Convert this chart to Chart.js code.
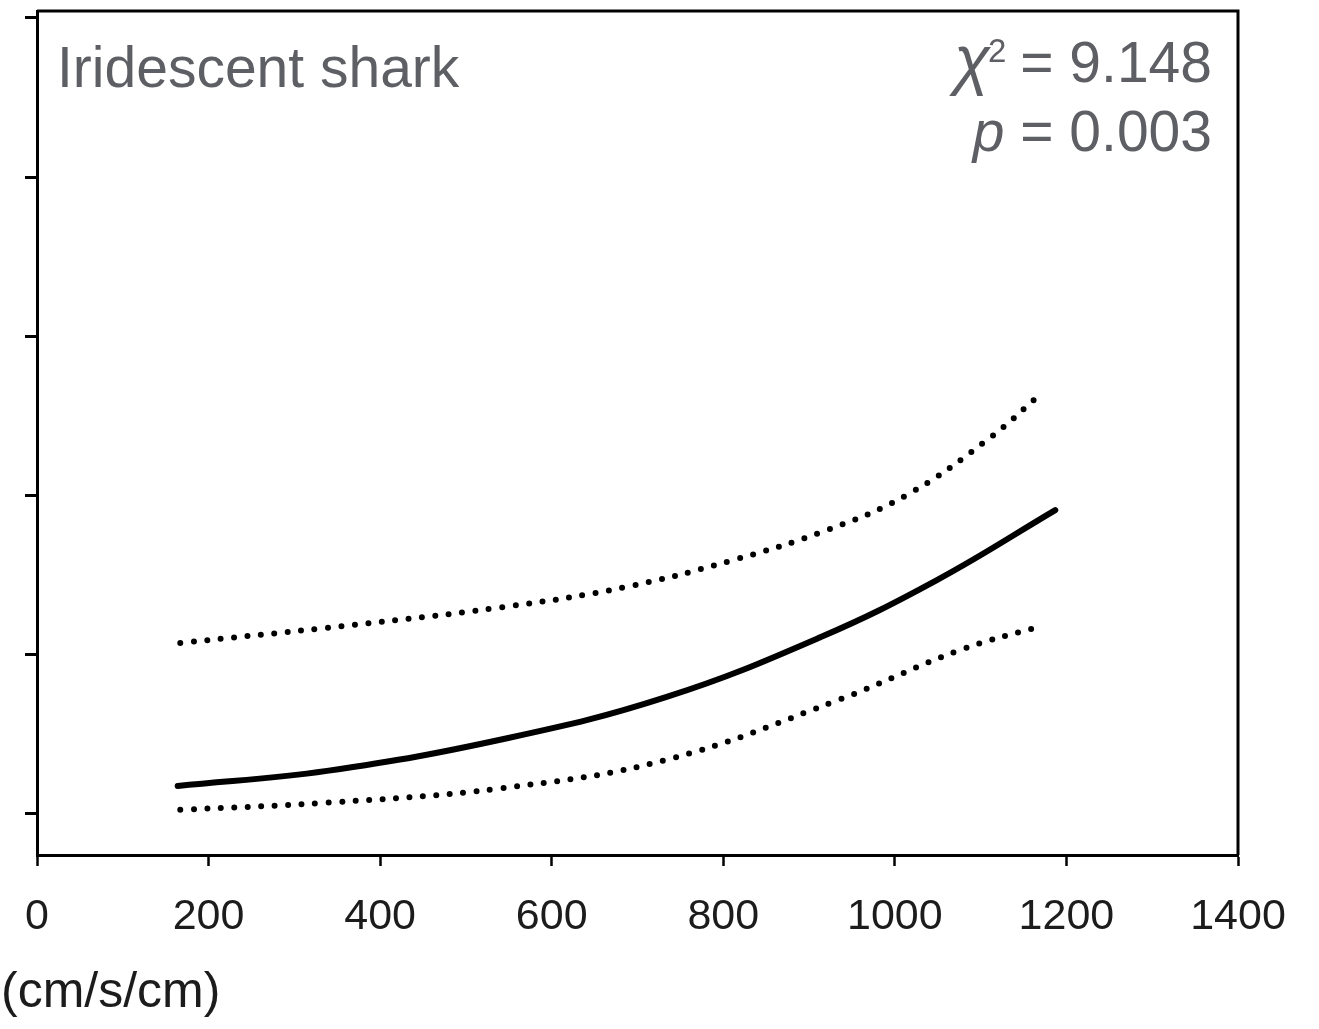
<!DOCTYPE html>
<html>
<head>
<meta charset="utf-8">
<script src="https://cdn.jsdelivr.net/npm/chart.js@4"></script>
<style>
  html, body { margin: 0; padding: 0; background: #fff; }
  #wrap { width: 1319px; height: 1029px; position: relative; }
</style>
</head>
<body>
<div id="wrap"><canvas id="myChart" width="1319" height="1029"></canvas></div>
<script>
// fitted curve (solid)
const fitX = [164, 338, 548, 734, 913, 1049, 1187];
const fitY = [0.034, 0.053, 0.094, 0.146, 0.221, 0.293, 0.381];

// upper confidence band (dotted)
const upperX = [167, 338, 543, 685, 811, 921, 1014, 1111, 1173];
const upperY = [0.214, 0.233, 0.259, 0.284, 0.318, 0.356, 0.400, 0.472, 0.530];

// lower confidence band (dotted)
const lowerX = [167, 338, 540, 734, 936, 1076, 1173];
const lowerY = [0.004, 0.013, 0.031, 0.067, 0.143, 0.205, 0.236];

// tick values
const xTicks = [0, 200, 400, 600, 800, 1000, 1200, 1400];
const yTicks = [0, 0.2, 0.4, 0.6, 0.8, 1.0];

const font = "'Liberation Sans', Arial, sans-serif";

// pair up x and y lists
function toPoints(xs, ys) {
  return xs.map((x, i) => ({x: x, y: ys[i]}));
}

// draws the top/right frame and the text labels
const extras = {
  id: 'extras',
  afterDraw(chart) {
    const ctx = chart.ctx;
    const a = chart.chartArea;
    ctx.save();
    ctx.strokeStyle = '#000';
    ctx.lineWidth = 3;
    ctx.beginPath();
    ctx.moveTo(a.left, a.top);
    ctx.lineTo(a.right, a.top);
    ctx.lineTo(a.right, a.bottom);
    ctx.stroke();

    ctx.fillStyle = '#5e5f64';
    ctx.textBaseline = 'alphabetic';
    ctx.font = '57px ' + font;
    ctx.textAlign = 'left';
    ctx.fillText('Iridescent shark', 57, 87);

    // chi square line, right aligned
    const right = 1212;
    ctx.textAlign = 'right';
    ctx.font = '57px ' + font;
    const rest = ' = 9.148';
    ctx.fillText(rest, right, 82);
    let w = ctx.measureText(rest).width;
    ctx.font = '33px ' + font;
    ctx.fillText('2', right - w + 2, 62);
    w += ctx.measureText('2').width;
    ctx.font = 'italic 66px ' + font;
    ctx.fillText('χ', right - w + 4, 82);

    // p value line
    ctx.font = '57px ' + font;
    const rest2 = ' = 0.003';
    ctx.fillText(rest2, right, 151);
    const w2 = ctx.measureText(rest2).width;
    ctx.font = 'italic 57px ' + font;
    ctx.fillText('p', right - w2, 151);

    // axis title, cut off at the left edge like the original
    ctx.fillStyle = '#1c1c1c';
    ctx.textAlign = 'left';
    ctx.font = '50px ' + font;
    ctx.fillText('(cm/s/cm)', 1, 1007);
    ctx.restore();
  }
};

const myChart = document.getElementById('myChart');

new Chart(myChart, {
  type: 'line',
  data: {
    datasets: [
      {
        label: 'fit',
        data: toPoints(fitX, fitY),
        borderColor: '#000',
        borderWidth: 6,
        borderCapStyle: 'round',
        pointRadius: 0,
        tension: 0.4
      },
      {
        label: 'upper',
        data: toPoints(upperX, upperY),
        borderColor: '#000',
        borderWidth: 6,
        borderDash: [0, 13.5],
        borderCapStyle: 'round',
        pointRadius: 0,
        tension: 0.4
      },
      {
        label: 'lower',
        data: toPoints(lowerX, lowerY),
        borderColor: '#000',
        borderWidth: 6,
        borderDash: [0, 13.5],
        borderCapStyle: 'round',
        pointRadius: 0,
        tension: 0.4
      }
    ]
  },
  options: {
    responsive: false,
    animation: false,
    layout: { padding: { left: 25, right: 81, top: 11, bottom: 54 } },
    plugins: {
      legend: { display: false },
      tooltip: { enabled: false }
    },
    scales: {
      x: {
        type: 'linear',
        min: 0,
        max: 1400,
        afterBuildTicks: s => { s.ticks = xTicks.map(v => ({value: v})); },
        afterFit: s => { s.height = 120; },
        border: { color: '#000', width: 3 },
        grid: { drawOnChartArea: false, tickLength: 11, tickWidth: 2.5, tickColor: '#000' },
        ticks: {
          color: '#1c1c1c',
          font: { family: font, size: 43 },
          padding: 25,
          maxRotation: 0,
          // plain numbers, no thousands separator
          callback: v => String(v)
        }
      },
      y: {
        type: 'linear',
        min: -0.0528,
        max: 1.0088,
        afterBuildTicks: s => { s.ticks = yTicks.map(v => ({value: v})); },
        afterFit: s => { s.width = 12; },
        border: { color: '#000', width: 3 },
        grid: { drawOnChartArea: false, tickLength: 12, tickWidth: 3, tickColor: '#000' },
        ticks: { display: false }
      }
    }
  },
  plugins: [extras]
});
</script>
</body>
</html>
